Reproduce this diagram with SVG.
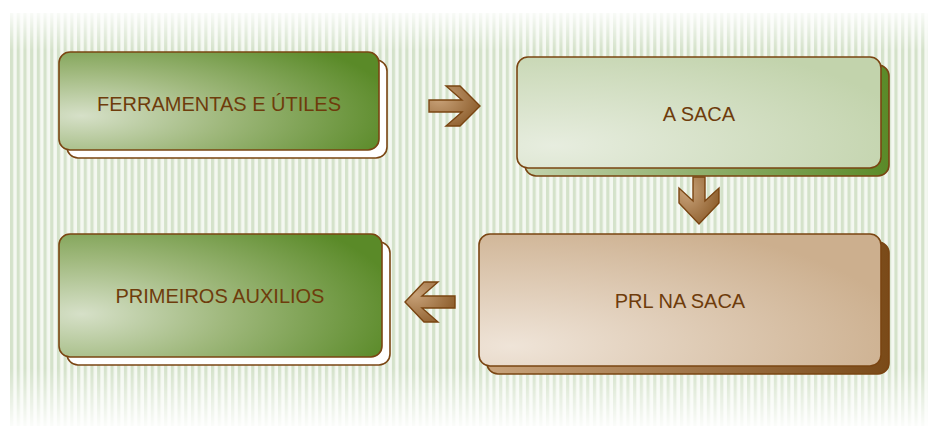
<svg xmlns="http://www.w3.org/2000/svg" width="933" height="428" viewBox="0 0 933 428">
<style>
.box{stroke:#7a4512;stroke-width:1.6}
.lbl{font-family:"Liberation Sans",Arial,sans-serif;font-size:20px;fill:#6e3c0c;text-anchor:middle}
.arr{fill:url(#gArr);stroke:#7a4512;stroke-width:1.4;stroke-linejoin:miter}
</style>
<defs>
<pattern id="stripes" x="10" y="0" width="6.7" height="10" patternUnits="userSpaceOnUse">
<rect x="0" y="0" width="6.7" height="10" fill="#f4f8f1"/>
<rect x="0" y="0" width="3.2" height="10" fill="#d4e2ca"/>
</pattern>
<linearGradient id="fadeV" x1="0" y1="0" x2="0" y2="1">
<stop offset="0" stop-color="#fff" stop-opacity="0.15"/>
<stop offset="0.09" stop-color="#fff" stop-opacity="1"/>
<stop offset="0.86" stop-color="#fff" stop-opacity="1"/>
<stop offset="1" stop-color="#fff" stop-opacity="0.1"/>
</linearGradient>
<mask id="bgMask" maskUnits="userSpaceOnUse" x="0" y="0" width="933" height="428">
<rect x="10" y="13" width="918" height="413" fill="url(#fadeV)"/>
</mask>
<radialGradient id="gGreen" cx="0.07" cy="0.65" r="1" fx="0.07" fy="0.65">
<stop offset="0" stop-color="#d6e0c8"/>
<stop offset="0.45" stop-color="#9fb87c"/>
<stop offset="1" stop-color="#5a8a28"/>
</radialGradient>
<radialGradient id="gLight" cx="0.1" cy="0.8" r="1" fx="0.1" fy="0.8">
<stop offset="0" stop-color="#e7eddf"/>
<stop offset="1" stop-color="#c2d3ac"/>
</radialGradient>
<linearGradient id="gGreenShadow" x1="0" y1="0" x2="1" y2="0">
<stop offset="0" stop-color="#c2d3ac"/>
<stop offset="1" stop-color="#5a8a28"/>
</linearGradient>
<radialGradient id="gTan" cx="0.08" cy="0.85" r="1" fx="0.08" fy="0.85">
<stop offset="0" stop-color="#efe4d8"/>
<stop offset="1" stop-color="#ccaf8e"/>
</radialGradient>
<linearGradient id="gBrownShadow" x1="0" y1="0" x2="1" y2="0">
<stop offset="0" stop-color="#c9a47c"/>
<stop offset="1" stop-color="#7a4a18"/>
</linearGradient>
<radialGradient id="gArr" cx="0.2" cy="0.3" r="0.9">
<stop offset="0" stop-color="#c9a37a"/>
<stop offset="1" stop-color="#8a5a28"/>
</radialGradient>
</defs>
<rect width="933" height="428" fill="#ffffff"/>
<rect x="10" y="13" width="918" height="413" fill="url(#stripes)" mask="url(#bgMask)"/>

<g id="node-ferramentas">
<rect class="box" x="67" y="60" width="320" height="98" rx="11" fill="#ffffff"/>
<rect class="box" x="59" y="52" width="320" height="98" rx="11" fill="url(#gGreen)"/>
<text class="lbl" x="219" y="111">FERRAMENTAS E ÚTILES</text>
</g>

<g id="node-a-saca">
<rect class="box" x="525" y="65" width="364" height="111" rx="11" fill="url(#gGreenShadow)"/>
<rect class="box" x="517" y="57" width="364" height="111" rx="11" fill="url(#gLight)"/>
<text class="lbl" x="699" y="121">A SACA</text>
</g>

<g id="node-prl">
<rect class="box" x="487" y="242" width="402" height="132" rx="11" fill="url(#gBrownShadow)"/>
<rect class="box" x="479" y="234" width="402" height="132" rx="11" fill="url(#gTan)"/>
<text class="lbl" x="680" y="308">PRL NA SACA</text>
</g>

<g id="node-primeiros">
<rect class="box" x="67" y="242" width="323" height="123" rx="11" fill="#ffffff"/>
<rect class="box" x="59" y="234" width="323" height="123" rx="11" fill="url(#gGreen)"/>
<text class="lbl" x="220" y="303">PRIMEIROS AUXILIOS</text>
</g>

<g id="connectors">
<polygon class="arr" points="429,100 462,100 446,86 460,86 480,106 460,126 446,126 462,112 429,112"/>
<polygon class="arr" points="693,177 705,177 705,201 719,188 719,203 699,224 679,203 679,188 693,201"/>
<polygon class="arr" points="455,296 422,296 438,282 424,282 405,302 424,322 438,322 422,308 455,308"/>
</g>
</svg>
